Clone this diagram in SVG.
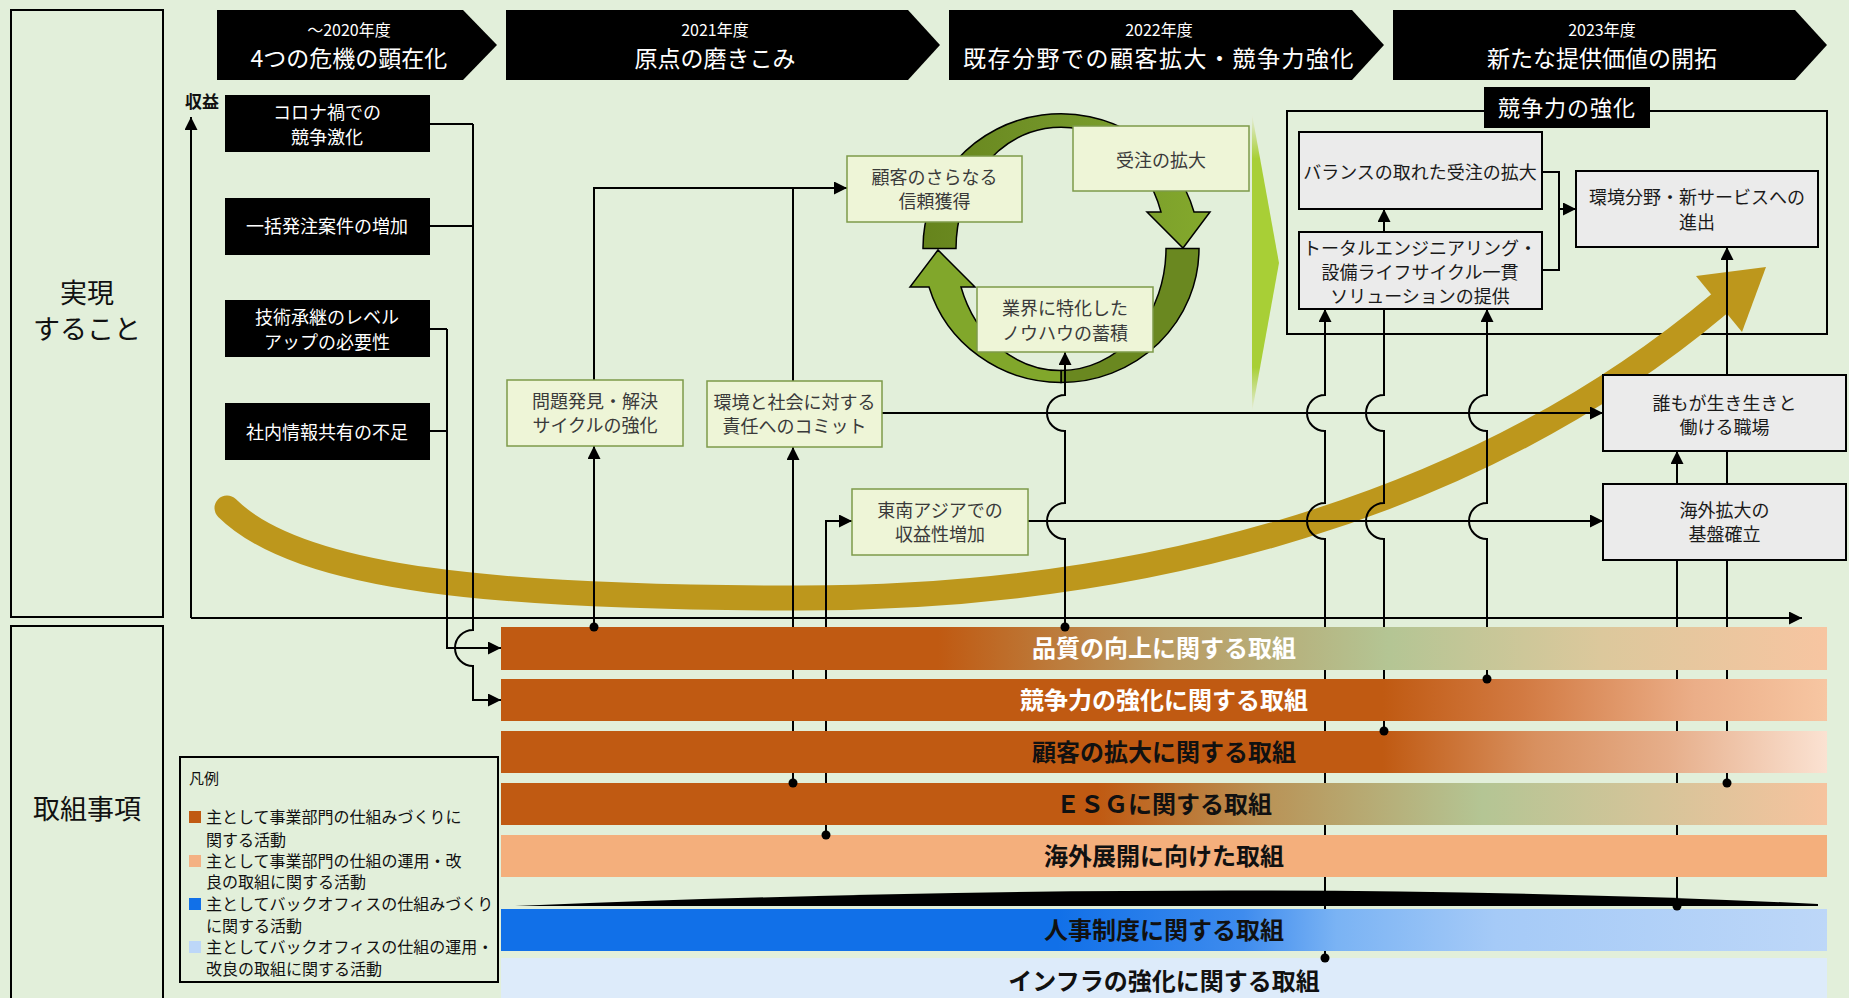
<svg xmlns="http://www.w3.org/2000/svg" width="1849" height="998" viewBox="0 0 1849 998">
<defs>
<style>
text{font-family:"Noto Sans CJK JP","Noto Sans",sans-serif;}
.frame{fill:none;stroke:#000;stroke-width:2}
.hy{fill:#fff;font-size:16px;text-anchor:middle}
.ht{fill:#fff;font-size:23px;text-anchor:middle}
.wt{fill:#fff;font-size:18px;text-anchor:middle}
.gb{fill:#EEF5D7;stroke:#7E9A4A;stroke-width:1.5}
.gt{fill:#3a3a3a;font-size:18px;text-anchor:middle}
.gy{fill:#EBEBEB;stroke:#000;stroke-width:2}
.kt{fill:#1a1a1a;font-size:18px;text-anchor:middle}
.ln{fill:none;stroke:#000;stroke-width:2}
.ar{marker-end:url(#ah)}
.bt{font-size:24px;font-weight:700;text-anchor:middle}
.lg{font-size:16px;fill:#111}
.big{font-size:27px;fill:#111;text-anchor:middle}
.ring{stroke:#000;stroke-width:1.5;stroke-linejoin:miter}
</style>
<marker id="ah" viewBox="0 0 10 10" refX="10" refY="5" markerWidth="6.5" markerHeight="6.5" orient="auto" markerUnits="strokeWidth"><path d="M0,0 L10,5 L0,10 z" fill="#000"/></marker>
<linearGradient id="g1" x1="0" y1="0" x2="1" y2="0"><stop offset="0" stop-color="#C05A12"/><stop offset="0.33" stop-color="#C05A12"/><stop offset="0.5" stop-color="#B99A62"/><stop offset="0.67" stop-color="#B4C594"/><stop offset="0.83" stop-color="#DCC89C"/><stop offset="1" stop-color="#F7C5A1"/></linearGradient>
<linearGradient id="g2" x1="0" y1="0" x2="1" y2="0"><stop offset="0" stop-color="#C05A12"/><stop offset="0.665" stop-color="#C05A12"/><stop offset="0.77" stop-color="#D27A42"/><stop offset="0.9" stop-color="#EBAE88"/><stop offset="1" stop-color="#F7C6A2"/></linearGradient>
<linearGradient id="g3" x1="0" y1="0" x2="1" y2="0"><stop offset="0" stop-color="#C05A12"/><stop offset="0.665" stop-color="#C05A12"/><stop offset="0.78" stop-color="#D8905F"/><stop offset="0.88" stop-color="#E6AE8A"/><stop offset="1" stop-color="#FBE2D2"/></linearGradient>
<linearGradient id="g4" x1="0" y1="0" x2="1" y2="0"><stop offset="0" stop-color="#C05A12"/><stop offset="0.45" stop-color="#C05A12"/><stop offset="0.58" stop-color="#B99458"/><stop offset="0.74" stop-color="#B4C594"/><stop offset="1" stop-color="#F6C39E"/></linearGradient>
<linearGradient id="g6" x1="0" y1="0" x2="1" y2="0"><stop offset="0" stop-color="#1170E8"/><stop offset="0.42" stop-color="#1170E8"/><stop offset="0.56" stop-color="#3F8CEE"/><stop offset="0.63" stop-color="#7AB3F4"/><stop offset="0.75" stop-color="#A5CAF7"/><stop offset="1" stop-color="#BDD7F8"/></linearGradient>
<linearGradient id="gtri" x1="0" y1="0" x2="0" y2="1"><stop offset="0" stop-color="#E8EEE0"/><stop offset="0.15" stop-color="#A8CF36"/><stop offset="0.85" stop-color="#A8CF36"/><stop offset="1" stop-color="#E8EEE0"/></linearGradient>
<linearGradient id="garcA" x1="0" y1="0" x2="1" y2="0"><stop offset="0" stop-color="#66841C"/><stop offset="0.5" stop-color="#74962A"/><stop offset="1" stop-color="#84A92C"/></linearGradient>
</defs>

<rect x="0" y="0" width="1849" height="998" fill="#E2EFDA"/>

<g id="label-jitsugen">
<rect class="frame" x="11" y="10" width="152" height="607"/>
<text class="big" x="87" y="303">実現</text>
<text class="big" x="87" y="339">すること</text>
</g>
<g id="label-torikumi">
<rect class="frame" x="11" y="626" width="152" height="380"/>
<text class="big" x="87" y="819">取組事項</text>
</g>

<g id="phase-2020">
<polygon points="217,10 463,10 497,45 463,80 217,80" fill="#000"/>
<text class="hy" x="349" y="36">～2020年度</text>
<text class="ht" x="349" y="67">4つの危機の顕在化</text>
</g>
<g id="phase-2021">
<polygon points="506,10 908,10 940,45 908,80 506,80" fill="#000"/>
<text class="hy" x="715" y="36">2021年度</text>
<text class="ht" x="715" y="67">原点の磨きこみ</text>
</g>
<g id="phase-2022">
<polygon points="949,10 1352,10 1384,45 1352,80 949,80" fill="#000"/>
<text class="hy" x="1159" y="36">2022年度</text>
<text class="ht" x="1159" y="67" letter-spacing="1.5">既存分野での顧客拡大・競争力強化</text>
</g>
<g id="phase-2023">
<polygon points="1393,10 1795,10 1827,45 1795,80 1393,80" fill="#000"/>
<text class="hy" x="1602" y="36">2023年度</text>
<text class="ht" x="1602" y="67">新たな提供価値の開拓</text>
</g>

<g id="kyosoryoku-frame">
<rect class="frame" x="1287" y="111" width="540" height="223"/>
</g>

<g id="growth-arrow">
<path d="M227 508 C300 580 500 598 800 598 C1150 598 1480 505 1719 304" fill="none" stroke="#BD971C" stroke-width="25" stroke-linecap="round"/>
<polygon points="1696,276 1766,267 1742,332" fill="#BD971C"/>
</g>

<g id="cycle-arrows">
<path class="ring" fill="url(#garcA)" d="M923 248.5 A138 134 0 0 1 1194 212 L1210 212 L1183 248 L1147 212 L1161 212 A105 122 0 0 0 956 248.5 Z"/>
<path class="ring" fill="#6A8820" d="M1199 248.5 A138 134 0 0 1 1061 382.5 L1061 370.5 A105 122 0 0 0 1166 248.5 Z"/>
<path class="ring" fill="#81A72B" d="M1061 382.5 A138 134 0 0 1 929 287 L910 287 L938 250 L975 287 L961 287 A105 122 0 0 0 1061 370.5 Z"/>
</g>

<g id="transition-chevron">
<polygon points="1252,114 1279,263 1252,412" fill="url(#gtri)"/>
</g>

<g id="connectors">
<path class="ln ar" d="M191 618 V117"/>
<path class="ln ar" d="M191 618 H1802"/>
<path class="ln" d="M430 124 H473 M430 226 H473 M430 329 H447 M430 431 H447"/>
<path class="ln ar" d="M473 124 V630 A18 18 0 0 0 473 666 V700 H501"/>
<path class="ln ar" d="M447 329 V648 H501"/>
<path class="ln ar" d="M594 627 V446"/>
<path class="ln ar" d="M594 380 V188 H847"/>
<path class="ln ar" d="M793 783 V447"/>
<path class="ln" d="M793 381 V188"/>
<path class="ln ar" d="M826 835 V521 H852"/>
<path class="ln ar" d="M1065 627 V539 A18 18 0 0 1 1065 503 V431 A18 18 0 0 1 1065 395 V352"/>
<path class="ln ar" d="M882 413 H1603"/>
<path class="ln ar" d="M1028 521 H1603"/>
<path class="ln ar" d="M1325 958 V539 A18 18 0 0 1 1325 503 V431 A18 18 0 0 1 1325 395 V309"/>
<path class="ln ar" d="M1384 731 V539 A18 18 0 0 1 1384 503 V431 A18 18 0 0 1 1384 395 V209"/>
<path class="ln ar" d="M1487 679 V539 A18 18 0 0 1 1487 503 V431 A18 18 0 0 1 1487 395 V309"/>
<path class="ln ar" d="M1677 906 V451"/>
<path class="ln ar" d="M1727 783 V247"/>
<path class="ln" d="M1542 172 H1559 V270 H1542"/>
<path class="ln ar" d="M1559 209 H1576"/>
</g>

<g id="shueki-label"><text x="202" y="108" font-size="17" font-weight="700" fill="#111" text-anchor="middle">収益</text></g>

<g id="crisis-1"><rect x="225" y="95" width="205" height="57" fill="#000"/><text class="wt" x="327" y="119">コロナ禍での</text><text class="wt" x="327" y="144">競争激化</text></g>
<g id="crisis-2"><rect x="225" y="198" width="205" height="57" fill="#000"/><text class="wt" x="327" y="233">一括発注案件の増加</text></g>
<g id="crisis-3"><rect x="225" y="300" width="205" height="57" fill="#000"/><text class="wt" x="327" y="324">技術承継のレベル</text><text class="wt" x="327" y="349">アップの必要性</text></g>
<g id="crisis-4"><rect x="225" y="403" width="205" height="57" fill="#000"/><text class="wt" x="327" y="439">社内情報共有の不足</text></g>

<g id="node-mondai"><rect class="gb" x="507" y="380" width="176" height="66"/><text class="gt" x="595" y="408">問題発見・解決</text><text class="gt" x="595" y="432">サイクルの強化</text></g>
<g id="node-kankyo-shakai"><rect class="gb" x="707" y="381" width="175" height="66"/><text class="gt" x="794.5" y="409">環境と社会に対する</text><text class="gt" x="794.5" y="433">責任へのコミット</text></g>
<g id="node-tonan"><rect class="gb" x="852" y="489" width="176" height="66"/><text class="gt" x="940" y="517">東南アジアでの</text><text class="gt" x="940" y="541">収益性増加</text></g>
<g id="node-kokyaku"><rect class="gb" x="847" y="156" width="175" height="66"/><text class="gt" x="934.5" y="184">顧客のさらなる</text><text class="gt" x="934.5" y="208">信頼獲得</text></g>
<g id="node-juchu"><rect class="gb" x="1073" y="126" width="176" height="65"/><text class="gt" x="1161" y="167">受注の拡大</text></g>
<g id="node-gyokai"><rect class="gb" x="977" y="287" width="176" height="65"/><text class="gt" x="1065" y="315">業界に特化した</text><text class="gt" x="1065" y="340">ノウハウの蓄積</text></g>

<g id="kyosoryoku-label"><rect x="1484" y="87" width="166" height="41" fill="#000"/><text x="1567" y="116" font-size="22" fill="#fff" text-anchor="middle" letter-spacing="1">競争力の強化</text></g>
<g id="node-balance"><rect class="gy" x="1299" y="132" width="243" height="77"/><text class="kt" x="1420" y="179">バランスの取れた受注の拡大</text></g>
<g id="node-total"><rect class="gy" x="1299" y="232" width="243" height="77"/><text class="kt" x="1420" y="255">トータルエンジニアリング・</text><text class="kt" x="1420" y="279">設備ライフサイクル一貫</text><text class="kt" x="1420" y="303">ソリューションの提供</text></g>
<g id="node-kankyo-bunya"><rect class="gy" x="1576" y="171" width="242" height="76"/><text class="kt" x="1697" y="204">環境分野・新サービスへの</text><text class="kt" x="1697" y="229">進出</text></g>
<g id="node-daremo"><rect class="gy" x="1603" y="375" width="243" height="76"/><text class="kt" x="1724.5" y="410">誰もが生き生きと</text><text class="kt" x="1724.5" y="434">働ける職場</text></g>
<g id="node-kaigai"><rect class="gy" x="1603" y="484" width="243" height="76"/><text class="kt" x="1724.5" y="517">海外拡大の</text><text class="kt" x="1724.5" y="541">基盤確立</text></g>

<g id="bar-hinshitsu"><rect x="501" y="627" width="1326" height="43" fill="url(#g1)"/><text class="bt" x="1164" y="657" fill="#fff">品質の向上に関する取組</text></g>
<g id="bar-kyosoryoku"><rect x="501" y="679" width="1326" height="42" fill="url(#g2)"/><text class="bt" x="1164" y="709" fill="#fff">競争力の強化に関する取組</text></g>
<g id="bar-kokyaku"><rect x="501" y="731" width="1326" height="42" fill="url(#g3)"/><text class="bt" x="1164" y="761" fill="#111">顧客の拡大に関する取組</text></g>
<g id="bar-esg"><rect x="501" y="783" width="1326" height="42" fill="url(#g4)"/><text class="bt" x="1164" y="813" fill="#111">ＥＳＧに関する取組</text></g>
<g id="bar-kaigai"><rect x="501" y="835" width="1326" height="42" fill="#F4AF7C"/><text class="bt" x="1164" y="865" fill="#111">海外展開に向けた取組</text></g>
<g id="divider"><path d="M515 906 Q1250 876 1818 904 L1818 906 Z" fill="#000"/></g>
<g id="bar-jinji"><rect x="501" y="909" width="1326" height="42" fill="url(#g6)"/><text class="bt" x="1164" y="939" fill="#111">人事制度に関する取組</text></g>
<g id="bar-infra"><rect x="501" y="958" width="1326" height="40" fill="#DDEBFA"/><text class="bt" x="1164" y="990" fill="#111">インフラの強化に関する取組</text></g>

<g id="connector-dots" fill="#000">
<circle cx="594" cy="627" r="4.5"/>
<circle cx="1065" cy="627" r="4.5"/>
<circle cx="793" cy="783" r="4.5"/>
<circle cx="826" cy="835" r="4.5"/>
<circle cx="1325" cy="958" r="4.5"/>
<circle cx="1384" cy="731" r="4.5"/>
<circle cx="1487" cy="679" r="4.5"/>
<circle cx="1677" cy="906" r="4.5"/>
<circle cx="1727" cy="783" r="4.5"/>
</g>

<g id="legend">
<rect x="180" y="757" width="318" height="225" fill="none" stroke="#000" stroke-width="2"/>
<text x="189" y="784" font-size="15" fill="#111">凡例</text>
<rect x="189" y="811" width="12" height="12" fill="#C05A12"/>
<text class="lg" x="206" y="823">主として事業部門の仕組みづくりに</text>
<text class="lg" x="206" y="846">関する活動</text>
<rect x="189" y="855" width="12" height="12" fill="#F4B183"/>
<text class="lg" x="206" y="867">主として事業部門の仕組の運用・改</text>
<text class="lg" x="206" y="888">良の取組に関する活動</text>
<rect x="189" y="898" width="12" height="12" fill="#1170E8"/>
<text class="lg" x="206" y="910">主としてバックオフィスの仕組みづくり</text>
<text class="lg" x="206" y="932">に関する活動</text>
<rect x="189" y="941" width="12" height="12" fill="#BDD7F8"/>
<text class="lg" x="206" y="953">主としてバックオフィスの仕組の運用・</text>
<text class="lg" x="206" y="975">改良の取組に関する活動</text>
</g>
</svg>
